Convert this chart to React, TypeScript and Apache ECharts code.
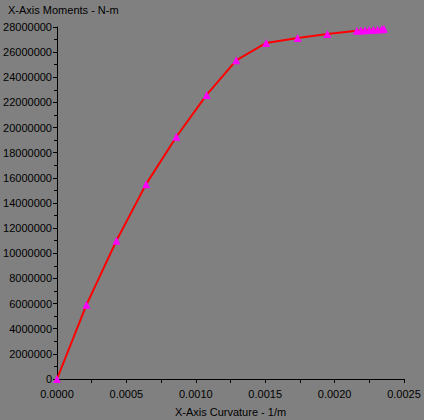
import React, { useEffect, useRef } from "react";
import * as echarts from "echarts";

const curvature = [
  0, 0.000212, 0.000428, 0.000642, 0.00086, 0.001078, 0.001291, 0.001507, 0.001733, 0.001948,
  0.00216, 0.00219, 0.00222, 0.00225, 0.00228, 0.00231, 0.00234, 0.002355,
];
const moments = [
  0, 5900000, 11000000, 15500000, 19270000, 22600000, 25350000, 26730000, 27130000, 27440000,
  27700000, 27720000, 27740000, 27760000, 27780000, 27800000, 27830000, 27860000,
];
const titleText = "X-Axis Moments - N-m";
const xAxisName = "X-Axis Curvature - 1/m";

export default function App() {
  const ref = useRef<HTMLDivElement>(null);
  useEffect(() => {
    if (!ref.current) return;
    const chart = echarts.init(ref.current, null, { renderer: "svg" });
    const font = "Liberation Sans, Arial, sans-serif";
    const data = curvature.map((c, i) => [c, moments[i]]);
    chart.setOption({
      animation: false,
      backgroundColor: "#808080",
      graphic: [
        {
          type: "text",
          left: 8,
          top: 4,
          style: { text: titleText, fill: "#000", font: `11px ${font}` },
        },
      ],
      grid: {
        left: 57,
        right: 20,
        top: 27,
        bottom: 41,
        containLabel: false,
        outerBoundsMode: "none",
      },
      xAxis: {
        type: "value",
        min: 0,
        max: 0.0025,
        interval: 0.0005,
        name: xAxisName,
        nameLocation: "middle",
        nameGap: 27,
        nameTextStyle: { color: "#000", fontSize: 11, fontFamily: font },
        axisLine: { onZero: false, lineStyle: { color: "#000", width: 1 } },
        axisTick: { show: true, length: 4, lineStyle: { color: "#000" } },
        minorTick: { show: true, splitNumber: 2, length: 4, lineStyle: { color: "#000" } },
        splitLine: { show: false },
        axisLabel: {
          color: "#000",
          fontSize: 11,
          fontFamily: font,
          margin: 9,
          formatter: (v: number) => v.toFixed(4),
        },
      },
      yAxis: {
        type: "value",
        min: 0,
        max: 28000000,
        interval: 2000000,
        axisLine: { show: true, onZero: false, lineStyle: { color: "#000", width: 1 } },
        axisTick: { show: true, length: 4, lineStyle: { color: "#000" } },
        minorTick: { show: true, splitNumber: 2, length: 3, lineStyle: { color: "#000" } },
        splitLine: { show: false },
        axisLabel: {
          color: "#000",
          fontSize: 11,
          fontFamily: font,
          margin: 5,
          formatter: (v: number) => String(v),
        },
      },
      series: [
        {
          type: "line",
          data,
          symbol: "triangle",
          symbolSize: 8,
          showAllSymbol: true,
          itemStyle: { color: "#ff00ff" },
          lineStyle: { color: "#ff0000", width: 2 },
          z: 2,
        },
      ],
    });
    return () => chart.dispose();
  }, []);
  return <div ref={ref} style={{ width: 424, height: 420, position: "absolute", left: 0, top: 0 }} />;
}
